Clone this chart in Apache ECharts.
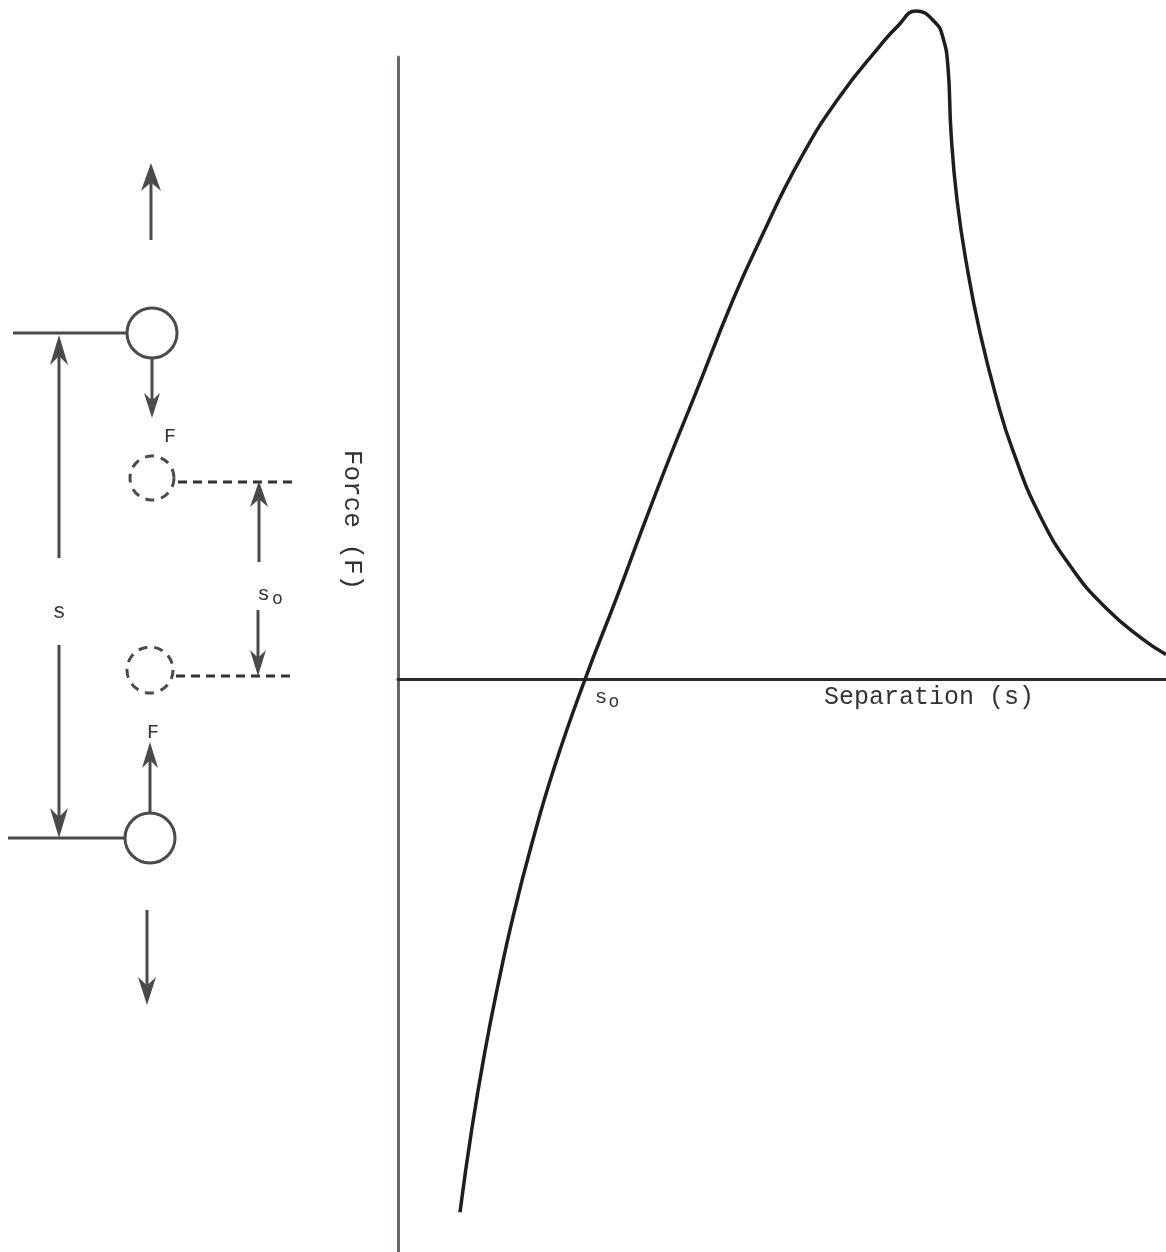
<!DOCTYPE html>
<html>
<head>
<meta charset="utf-8">
<script src="https://cdn.jsdelivr.net/npm/echarts@6/dist/echarts.min.js"></script>
<style>
  html, body { margin: 0; padding: 0; background: #fff; }
  #chart { width: 1166px; height: 1252px; }
</style>
</head>
<body>
<div id="chart"></div>
<script>
// separation (arbitrary units) and force
var sepValues = [
  0.807, 0.964, 1.133, 1.302, 1.497, 1.745, 2.044, 2.435, 2.852, 3.190,
  3.542, 3.841, 4.362, 4.714, 5.234, 5.755, 6.276, 6.510, 6.745, 6.992,
  7.096, 7.161, 7.201, 7.279, 7.409, 7.578, 7.799, 8.008, 8.359, 8.789,
  9.232, 9.661, 10.0
];
var forceValues = [
  -8.56, -7.20, -5.97, -4.91, -3.82, -2.63, -1.38, 0, 1.33, 2.45,
  3.58, 4.49, 6.10, 7.06, 8.35, 9.37, 10.18, 10.50, 10.74, 10.56,
  10.31, 9.84, 8.78, 7.70, 6.63, 5.57, 4.49, 3.67, 2.63, 1.76,
  1.13, 0.68, 0.40
];
var sZero = 2.435;
var axisTitles = ['Separation (s)', 'Force (F)'];

var INK = '#4a4a4a';
var FONT = '"Courier New", "Liberation Mono", monospace';

var curve = sepValues.map(function (s, i) { return [s, forceValues[i]]; });

// little helpers for the sketch on the left
function vArrow(x, yFrom, yTip, head, w) {
  var dir = yTip > yFrom ? 1 : -1;
  var base = yTip - dir * head;
  var notch = yTip - dir * head * 0.7;
  return [
    { type: 'line', shape: { x1: x, y1: yFrom, x2: x, y2: notch }, style: { stroke: INK, lineWidth: 3 } },
    { type: 'polygon', shape: { points: [[x, yTip], [x - w / 2, base], [x, notch], [x + w / 2, base]] },
      style: { fill: INK } }
  ];
}
function hLine(x1, x2, y, dashed) {
  return { type: 'line', shape: { x1: x1, y1: y, x2: x2, y2: y },
    style: { stroke: dashed ? '#333' : INK, lineWidth: 3, lineDash: dashed ? [9, 6] : null } };
}
function ring(cx, cy, r, dashed) {
  return { type: 'circle', shape: { cx: cx, cy: cy, r: r },
    style: { fill: 'none', stroke: INK, lineWidth: 3, lineDash: dashed ? [9, 7] : null } };
}
function label(x, y, txt, size) {
  return { type: 'text', x: x, y: y,
    style: { text: txt, font: (size || 20) + 'px ' + FONT, fill: '#333', align: 'center', verticalAlign: 'middle' } };
}

var sketch = []
  .concat(vArrow(151, 240, 163, 28, 20))
  .concat([ring(152, 333, 25, false), hLine(13, 127, 333, false)])
  .concat(vArrow(152, 358, 418, 25, 16))
  .concat([label(170, 437, 'F'), ring(152, 478, 22, true), hLine(178, 295, 482, true)])
  .concat(vArrow(259, 562, 481, 26, 18))
  .concat(vArrow(59, 558, 335, 30, 18))
  .concat([label(59, 612, 's', 22)])
  .concat(vArrow(59, 645, 838, 30, 18))
  .concat([{ type: 'text', x: 270, y: 594,
    style: { text: '{a|s}{b|o}', align: 'center', verticalAlign: 'middle',
      rich: { a: { font: '21px ' + FONT, fill: '#333' },
              b: { font: '18px ' + FONT, fill: '#333', padding: [10, 0, 0, 2] } } } }])
  .concat(vArrow(258, 610, 676, 26, 16))
  .concat([ring(150, 670, 23, true), hLine(176, 293, 676, true), label(153, 733, 'F')])
  .concat(vArrow(150, 812, 742, 26, 16))
  .concat([ring(150, 838, 25, false), hLine(8, 125, 838, false)])
  .concat(vArrow(147, 910, 1005, 28, 18))
  .concat([
    { type: 'text', x: 929, y: 697,
      style: { text: axisTitles[0], font: '25px ' + FONT, fill: '#333', align: 'center', verticalAlign: 'middle' } },
    { type: 'text', x: 352, y: 520, rotation: -Math.PI / 2,
      style: { text: axisTitles[1], font: '26px ' + FONT, fill: '#333', align: 'center', verticalAlign: 'middle' } }
  ]);

var chart = echarts.init(document.getElementById('chart'));
chart.setOption({
  animation: false,
  backgroundColor: '#fff',
  grid: { left: 398, right: 0, top: 57, bottom: 0 },
  xAxis: {
    type: 'value', min: 0, max: 10,
    axisLine: { onZero: true, lineStyle: { color: '#2a2a2a', width: 3 } },
    axisTick: { show: false }, axisLabel: { show: false }, splitLine: { show: false }
  },
  yAxis: {
    type: 'value', min: -9.2, max: 10,
    axisLine: { show: true, onZero: true, lineStyle: { color: '#6e6262', width: 3 } },
    axisTick: { show: false }, axisLabel: { show: false }, splitLine: { show: false }
  },
  series: [{
    type: 'line',
    data: curve,
    smooth: 0.5,
    clip: false,
    symbol: 'none',
    lineStyle: { color: '#1e1e1e', width: 3.5 },
    markPoint: {
      symbol: 'circle', symbolSize: 0,
      data: [{ coord: [sZero, 0] }],
      label: {
        show: true, offset: [22, 18],
        formatter: '{a|s}{b|o}',
        rich: { a: { fontFamily: FONT, fontSize: 21, color: '#333' },
                b: { fontFamily: FONT, fontSize: 18, color: '#333', padding: [10, 0, 0, 1] } }
      }
    }
  }],
  graphic: sketch
});
</script>
</body>
</html>
